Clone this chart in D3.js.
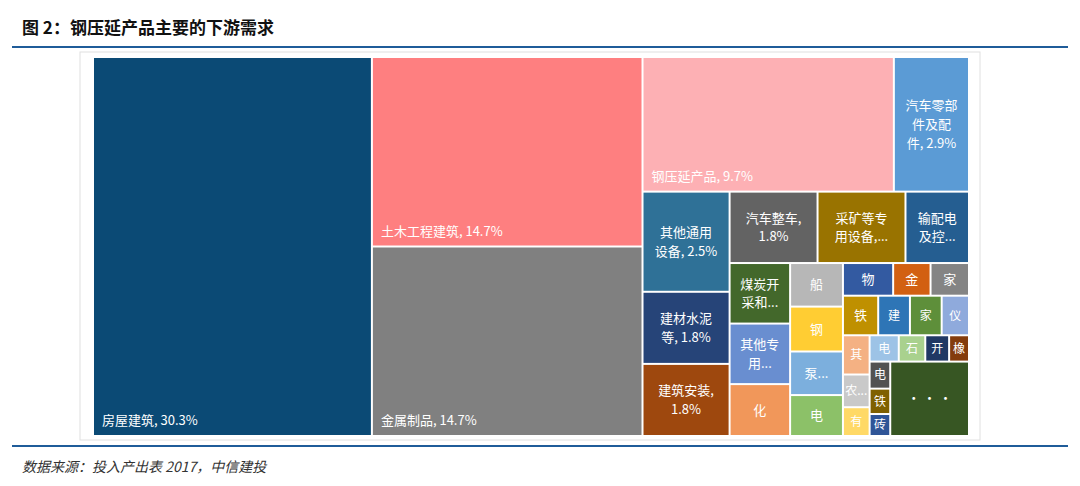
<!DOCTYPE html>
<html><head><meta charset="utf-8">
<script src="https://cdn.jsdelivr.net/npm/d3@7"></script>
<style>body{margin:0;background:#fff;font-family:"Noto Sans CJK SC","Noto Sans",sans-serif}</style>
</head><body><svg id="chart" width="1080" height="486"></svg>
<script>
// leaf names (\n = line break in label), values (%), colours
var names = ['房屋建筑, 30.3%','土木工程建筑, 14.7%','金属制品, 14.7%','钢压延产品, 9.7%','汽车零部\n件及配\n件, 2.9%',
  '其他通用\n设备, 2.5%','建材水泥\n等, 1.8%','建筑安装,\n1.8%','汽车整车,\n1.8%','采矿等专\n用设备,...','输配电\n及控...',
  '煤炭开\n采和...','其他专\n用...','化','船','钢','泵...','电',
  '物','金','家','铁','建','家','仪','其','农...','有','电','石','开','橡','电','铁','砖','• • •'];
var values = [30.3,14.7,14.7,9.7,2.9, 2.5,1.8,1.8,1.8,1.8,1.3, 1.05,1.05,0.9,0.66,0.68,0.66,0.62,
  0.47,0.35,0.36,0.40,0.36,0.36,0.31,0.3,0.25,0.22,0.22,0.2,0.18,0.15,0.16,0.15,0.13,1.68];
var colors = ['#0b4a75','#fe7f80','#808080','#fdb0b4','#5b9bd5','#2f7197','#264478','#9e480e','#636363','#997300','#255e91',
  '#43682b','#698ed0','#f1975a','#b7b7b7','#ffcd33','#7cafdd','#8cc168','#335aa1','#d26012','#848484','#bf9000','#2e75b6',
  '#5e8f3a','#8faadc','#f4b183','#c9c9c9','#ffd966','#9dc3e6','#a9d18e','#203864','#843c0c','#525252','#7f6000','#2f5597','#375623'];
// layout nesting: h = children side by side, v = stacked; numbers are leaf indices
var layout = ['h',0,['v',1,2],['v',['h',3,4],['h',['v',5,6,7],['v',['h',8,9,10],['h',['v',11,12,13],['v',14,15,16,17],
  ['v',['h',18,19,20],['h',21,22,23,24],['h',['v',25,26,27],['v',['h',28,29,30,31],['h',['v',32,33,34],35]]]]]]]]];

function build(n){
  if(typeof n==='number') return {i:n,value:values[n]};
  return {dir:n[0],children:n.slice(1).map(build)};
}
var svg = d3.select('#chart');
svg.append('text').attr('x',22).attr('y',34).attr('font-size',17).attr('font-weight','bold').attr('fill','#111')
  .text('图 2：钢压延产品主要的下游需求');
svg.append('line').attr('x1',12).attr('x2',1068).attr('y1',47).attr('y2',47).attr('stroke','#1f5c99').attr('stroke-width',2);
svg.append('line').attr('x1',12).attr('x2',1068).attr('y1',446).attr('y2',446).attr('stroke','#1f5c99').attr('stroke-width',2);
svg.append('text').attr('x',22).attr('y',472).attr('font-size',14).attr('font-style','italic').attr('fill','#333')
  .text('数据来源：投入产出表 2017，中信建投');
svg.append('rect').attr('x',80).attr('y',52).attr('width',900).attr('height',388).attr('fill','none').attr('stroke','#e0e0e0');

var root = d3.hierarchy(build(layout)).sum(function(d){return d.value||0;});
d3.treemap().size([874,377]).paddingInner(2).round(false)
  .tile(function(node,x0,y0,x1,y1){
    (node.data.dir==='h'?d3.treemapDice:d3.treemapSlice)(node,x0,y0,x1,y1);
  })(root);

var g = svg.append('g').attr('transform','translate(94,58)');
var cells = g.selectAll('g').data(root.leaves()).enter().append('g');
cells.append('rect').attr('x',function(d){return d.x0;}).attr('y',function(d){return d.y0;})
  .attr('width',function(d){return d.x1-d.x0;}).attr('height',function(d){return d.y1-d.y0;})
  .attr('fill',function(d){return colors[d.data.i];});
cells.each(function(d){
  var lines = names[d.data.i].split('\n'), w=d.x1-d.x0, h=d.y1-d.y0;
  var big = w>200, fs = w<30 ? 12 : 13;
  var t = d3.select(this).append('text').attr('fill','#fff').attr('font-size',fs)
    .attr('text-anchor',big?'start':'middle');
  var lh = fs*1.45, startY = big ? d.y1-10-(lines.length-1)*lh : (d.y0+d.y1)/2-(lines.length-1)*lh/2+fs*0.36;
  lines.forEach(function(s,k){
    t.append('tspan').attr('x',big?d.x0+8:(d.x0+d.x1)/2).attr('y',startY+k*lh).text(s);
  });
});
</script></body></html>
